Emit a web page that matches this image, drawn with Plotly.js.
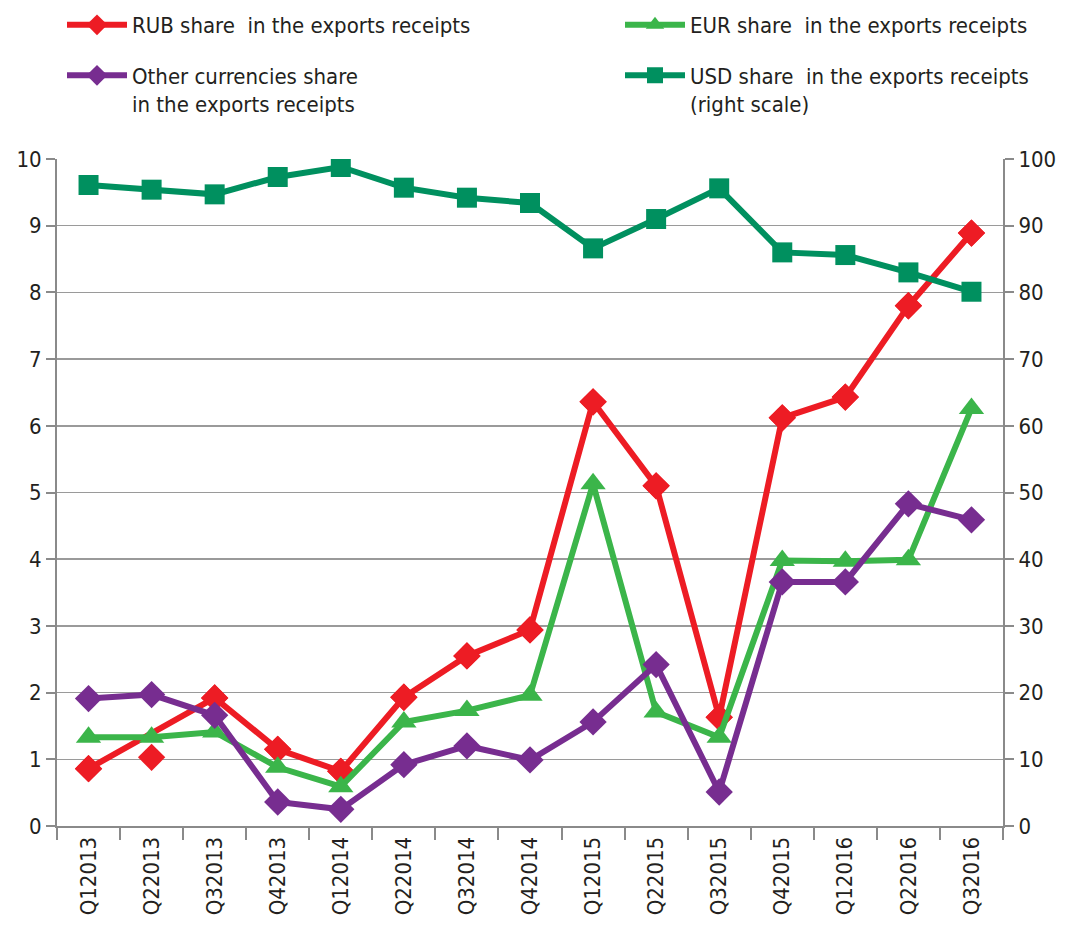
<!DOCTYPE html>
<html>
<head>
<meta charset="utf-8">
<script src="https://cdn.plot.ly/plotly-3.0.1.min.js"></script>
<style>
  html, body { margin: 0; padding: 0; background: #fff; }
  #chart { width: 1078px; height: 925px; }
</style>
</head>
<body>
<div id="chart"></div>
<script>
const quarters = ["Q12013","Q22013","Q32013","Q42013","Q12014","Q22014","Q32014","Q42014",
                  "Q12015","Q22015","Q32015","Q42015","Q12016","Q22016","Q32016"];
const rubShare   = [0.86, 1.03, 1.92, 1.15, 0.82, 1.93, 2.55, 2.94, 6.36, 5.10, 1.63, 6.12, 6.43, 7.80, 8.89];
const eurShare   = [1.33, 1.33, 1.41, 0.88, 0.59, 1.56, 1.73, 1.96, 5.13, 1.71, 1.33, 3.98, 3.97, 3.99, 6.26];
const otherShare = [1.91, 1.97, 1.66, 0.36, 0.25, 0.92, 1.20, 0.99, 1.56, 2.42, 0.51, 3.66, 3.66, 4.83, 4.59];
const usdShare   = [96.1, 95.4, 94.7, 97.3, 98.8, 95.7, 94.2, 93.4, 86.6, 91.0, 95.6, 86.0, 85.6, 83.0, 80.1];
// in the source chart the RUB line is drawn past the Q22013 point
const rubLineSkipped = ["Q22013"];
const rubLine = rubShare.map((v, i) => rubLineSkipped.includes(quarters[i]) ? null : v);

const FONT = '"DejaVu Sans Condensed", "Liberation Sans Narrow", sans-serif';
const TXT = '#231f20';
const GRID = '#9a9a9a';
const AX = '#8a8a8a';
const FS = 22;

const cRub = '#ed1c24', cEur = '#3bb54a', cOther = '#772d90', cUsd = '#00905f';

const traces = [
  { x: quarters, y: rubLine, name: 'RUB share  in the exports receipts', type: 'scatter',
    mode: 'lines+markers', connectgaps: true, legend: 'legend',
    line: { color: cRub, width: 6 }, marker: { symbol: 'diamond', size: 21, color: cRub } },
  { x: quarters, y: rubShare, type: 'scatter', mode: 'markers', showlegend: false, hoverinfo: 'skip',
    marker: { symbol: 'diamond', size: 21, color: cRub } },
  { x: quarters, y: eurShare, name: 'EUR share  in the exports receipts', type: 'scatter',
    mode: 'lines+markers', legend: 'legend2',
    line: { color: cEur, width: 6 }, marker: { symbol: 'triangle-up', size: 22, color: cEur } },
  { x: quarters, y: otherShare, name: 'Other currencies share<br>in the exports receipts', type: 'scatter',
    mode: 'lines+markers', legend: 'legend3',
    line: { color: cOther, width: 6 }, marker: { symbol: 'diamond', size: 21, color: cOther } },
  { x: quarters, y: usdShare, name: 'USD share  in the exports receipts<br>(right scale)', type: 'scatter',
    mode: 'lines+markers', yaxis: 'y2', legend: 'legend4',
    line: { color: cUsd, width: 6 }, marker: { symbol: 'square', size: 20, color: cUsd } }
];

function leg(x, y) {
  return {
    xref: 'container', yref: 'container', x: x / 1078, xanchor: 'left',
    y: 1 - y / 925, yanchor: 'middle', valign: 'top',
    itemwidth: 60, bgcolor: 'rgba(0,0,0,0)', borderwidth: 0,
    font: { family: FONT, size: FS, color: TXT }
  };
}

const axisFont = { family: FONT, size: FS, color: TXT };

const layout = {
  width: 1078, height: 925,
  margin: { l: 57, r: 75, t: 159, b: 99, autoexpand: false },
  paper_bgcolor: '#fff', plot_bgcolor: '#fff',
  font: { family: FONT, color: TXT, size: FS },
  showlegend: true,
  legend: leg(62, 25),
  legend2: leg(620, 25),
  legend3: leg(62, 90),
  legend4: leg(620, 90),
  xaxis: {
    type: 'category', range: [-0.5, 14.5],
    tickson: 'boundaries', ticks: 'outside', ticklen: 12, tickwidth: 2, tickcolor: AX,
    tickangle: -90, tickfont: axisFont,
    showline: true, linecolor: AX, linewidth: 2,
    showgrid: false, zeroline: false, fixedrange: true
  },
  yaxis: {
    range: [0, 10], dtick: 1, tick0: 0,
    ticks: 'outside', ticklen: 9, tickwidth: 2, tickcolor: AX,
    tickfont: axisFont,
    showline: true, linecolor: AX, linewidth: 2,
    showgrid: true, gridcolor: GRID, gridwidth: 1.5,
    zeroline: false, fixedrange: true
  },
  yaxis2: {
    overlaying: 'y', side: 'right', range: [0, 100], dtick: 10, tick0: 0,
    ticks: 'outside', ticklen: 9, tickwidth: 2, tickcolor: AX,
    tickfont: axisFont,
    showline: true, linecolor: AX, linewidth: 2,
    showgrid: false, zeroline: false, fixedrange: true
  }
};

Plotly.newPlot('chart', traces, layout, { displayModeBar: false, staticPlot: true });
</script>
</body>
</html>
